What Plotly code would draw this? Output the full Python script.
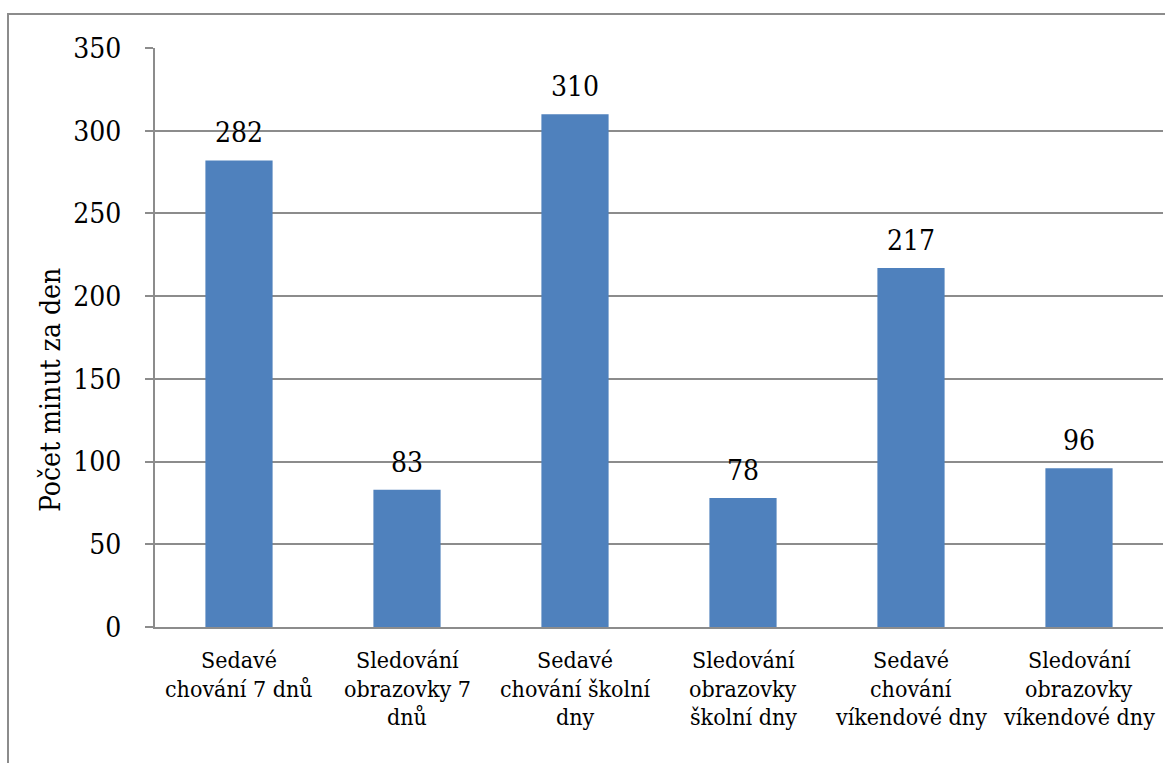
import plotly.graph_objects as go

categories = ["Sedavé chování 7 dnů", "Sledování obrazovky 7 dnů", "Sedavé chování školní dny",
              "Sledování obrazovky školní dny", "Sedavé chování víkendové dny", "Sledování obrazovky víkendové dny"]
label_lines = [["Sedavé", "chování 7 dnů"], ["Sledování", "obrazovky 7", "dnů"], ["Sedavé", "chování školní", "dny"],
               ["Sledování", "obrazovky", "školní dny"], ["Sedavé", "chování", "víkendové dny"],
               ["Sledování", "obrazovky", "víkendové dny"]]
values = [282, 83, 310, 78, 217, 96]
y_ticks = [0, 50, 100, 150, 200, 250, 300, 350]
y_title = "Počet minut za den"

FONT = "DejaVu Serif Condensed"
GRID = "#8c8c8c"
W, H = 1165, 763
L, R, T, B = 155, 2, 48, 136
pw, ph = W - L - R, H - T - B

fig = go.Figure(go.Bar(x=categories, y=values, marker=dict(color="#4F81BD", line=dict(width=0)),
                       hoverinfo="x+y"))

ann = []
for c, v in zip(categories, values):
    ann.append(dict(x=c, y=v, xref="x", yref="y", text=str(v), showarrow=False,
                    yanchor="bottom", yshift=9, font=dict(family=FONT, size=28, color="black")))
for c, lines in zip(categories, label_lines):
    for i, ln in enumerate(lines):
        ann.append(dict(x=c, y=0, xref="x", yref="y", text=ln, showarrow=False,
                        yanchor="top", yshift=-18 - 28.5 * i, font=dict(family=FONT, size=23, color="black")))
ann.append(dict(x=(50 - L) / pw, y=(H - B - 390) / ph, xref="paper", yref="paper", text=y_title,
                textangle=-90, showarrow=False, xanchor="center", yanchor="middle",
                font=dict(family=FONT, size=28, color="black")))

fig.update_layout(
    width=W, height=H, margin=dict(l=L, r=R, t=T, b=B, autoexpand=False),
    paper_bgcolor="white", plot_bgcolor="white", showlegend=False, bargap=0.6,
    font=dict(family=FONT, color="black"),
    xaxis=dict(range=[-0.5, 5.5], showticklabels=False, ticks="", showline=True, linecolor=GRID, linewidth=2,
               showgrid=False, zeroline=False),
    yaxis=dict(range=[0, 350], tickvals=y_ticks, ticks="outside", ticklen=8, tickcolor=GRID, tickwidth=2,
               showline=True, linecolor=GRID, linewidth=2, showgrid=True, gridcolor=GRID, gridwidth=2,
               zeroline=False, tickfont=dict(family=FONT, size=28, color="black"), ticklabelstandoff=18),
    annotations=ann,
    shapes=[dict(type="rect", xref="paper", yref="paper",
                 x0=(8 - L) / pw, x1=(1175 - L) / pw, y0=(H - B - 775) / ph, y1=(H - B - 14) / ph,
                 line=dict(color=GRID, width=2), fillcolor="rgba(0,0,0,0)", layer="below")],
)
fig.write_html("out.html")
